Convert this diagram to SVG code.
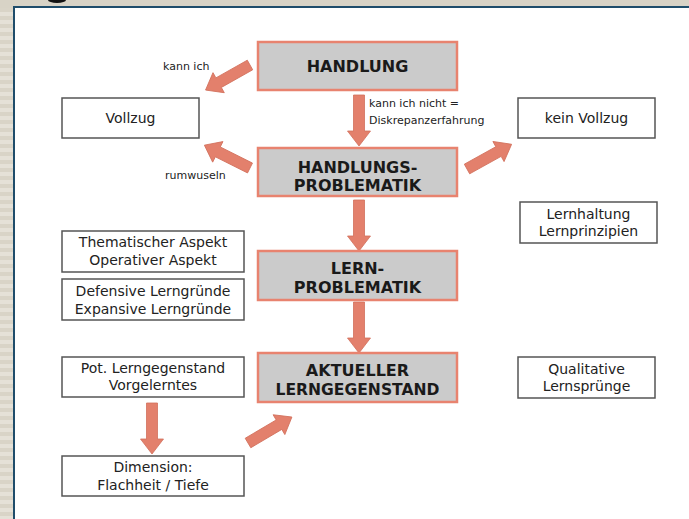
<svg xmlns="http://www.w3.org/2000/svg" xmlns:xlink="http://www.w3.org/1999/xlink" width="689" height="519" viewBox="0 0 689 519">
<style>
.main rect{fill:#cbcbcb;stroke:#e8836f;stroke-width:2.5}
.main text{font-family:"DejaVu Sans","Liberation Sans",sans-serif;font-weight:bold;font-size:16px;fill:#1a1a1a;text-anchor:middle}
.box rect{fill:#fff;stroke:#555;stroke-width:1.5}
.box text{font-family:"DejaVu Sans","Liberation Sans",sans-serif;font-size:14px;fill:#222;text-anchor:middle}
.lbl{font-family:"DejaVu Sans","Liberation Sans",sans-serif;font-size:11px;fill:#222}
.arr{fill:#e3806c;stroke:#d2705c;stroke-width:0.8}
</style>
<defs>
<pattern id="stripes" width="14" height="8" patternUnits="userSpaceOnUse">
<rect width="14" height="8" fill="#d9d4c7"/>
<rect y="4" width="14" height="4" fill="#e5e1d7"/>
</pattern>
<path id="arrow" d="M0,-5.5 L36,-5.5 L36,-11.5 L51,0 L36,11.5 L36,5.5 L0,5.5 Z"/>
</defs>
<rect width="689" height="519" fill="#d8d3c6"/>
<rect x="0" y="8" width="13" height="511" fill="url(#stripes)"/>
<rect x="15" y="8" width="674" height="511" fill="#fff"/>
<rect x="13" y="6" width="676" height="2" fill="#1f4d6b"/>
<rect x="13" y="6" width="2" height="513" fill="#1f4d6b"/>
<ellipse cx="57" cy="0" rx="9" ry="3" fill="#111"/>

<g id="connectors" class="arr">
<use xlink:href="#arrow" transform="translate(250,65) rotate(150.6)"/>
<use xlink:href="#arrow" transform="translate(359,95) rotate(90)"/>
<use xlink:href="#arrow" transform="translate(250,168) rotate(-153.4)"/>
<use xlink:href="#arrow" transform="translate(467,169) rotate(-29)"/>
<use xlink:href="#arrow" transform="translate(359,200) rotate(90)"/>
<use xlink:href="#arrow" transform="translate(359,302) rotate(90)"/>
<use xlink:href="#arrow" transform="translate(152,403) rotate(90)"/>
<use xlink:href="#arrow" transform="translate(248,443) rotate(-30.6)"/>
</g>

<g id="n-handlung" class="main">
<rect x="258" y="42" width="199" height="48"/>
<text x="357.5" y="72">HANDLUNG</text>
</g>
<g id="n-handlungsproblematik" class="main">
<rect x="258" y="148" width="199" height="48"/>
<text x="357.5" y="173">HANDLUNGS-</text>
<text x="357.5" y="191">PROBLEMATIK</text>
</g>
<g id="n-lernproblematik" class="main">
<rect x="258" y="251" width="199" height="49"/>
<text x="357.5" y="274">LERN-</text>
<text x="357.5" y="293">PROBLEMATIK</text>
</g>
<g id="n-aktueller" class="main">
<rect x="258" y="353" width="199" height="49"/>
<text x="357.5" y="376">AKTUELLER</text>
<text x="357.5" y="395" textLength="164" lengthAdjust="spacingAndGlyphs">LERNGEGENSTAND</text>
</g>

<g id="n-vollzug" class="box">
<rect x="62" y="98" width="137" height="40"/>
<text x="130.5" y="123">Vollzug</text>
</g>
<g id="n-keinvollzug" class="box">
<rect x="518" y="98" width="137" height="40"/>
<text x="586.5" y="123">kein Vollzug</text>
</g>
<g id="n-lernhaltung" class="box">
<rect x="520" y="202" width="137" height="41"/>
<text x="588.5" y="219">Lernhaltung</text>
<text x="588.5" y="236">Lernprinzipien</text>
</g>
<g id="n-aspekt" class="box">
<rect x="62" y="231" width="182" height="41"/>
<text x="153" y="247">Thematischer Aspekt</text>
<text x="153" y="265">Operativer Aspekt</text>
</g>
<g id="n-lerngruende" class="box">
<rect x="62" y="279" width="182" height="41"/>
<text x="153" y="296">Defensive Lerngründe</text>
<text x="153" y="314">Expansive Lerngründe</text>
</g>
<g id="n-potlern" class="box">
<rect x="62" y="357" width="182" height="40"/>
<text x="153" y="373">Pot. Lerngegenstand</text>
<text x="153" y="390">Vorgelerntes</text>
</g>
<g id="n-qualitative" class="box">
<rect x="518" y="357" width="137" height="41"/>
<text x="586.5" y="374">Qualitative</text>
<text x="586.5" y="391">Lernsprünge</text>
</g>
<g id="n-dimension" class="box">
<rect x="62" y="456" width="182" height="40"/>
<text x="153" y="472">Dimension:</text>
<text x="153" y="490">Flachheit / Tiefe</text>
</g>

<g id="labels">
<text class="lbl" x="163" y="70">kann ich</text>
<text class="lbl" x="165" y="179" font-size="10">rumwuseln</text>
<text class="lbl" x="369" y="107">kann ich nicht =</text>
<text class="lbl" x="369" y="124">Diskrepanzerfahrung</text>
</g>
</svg>
